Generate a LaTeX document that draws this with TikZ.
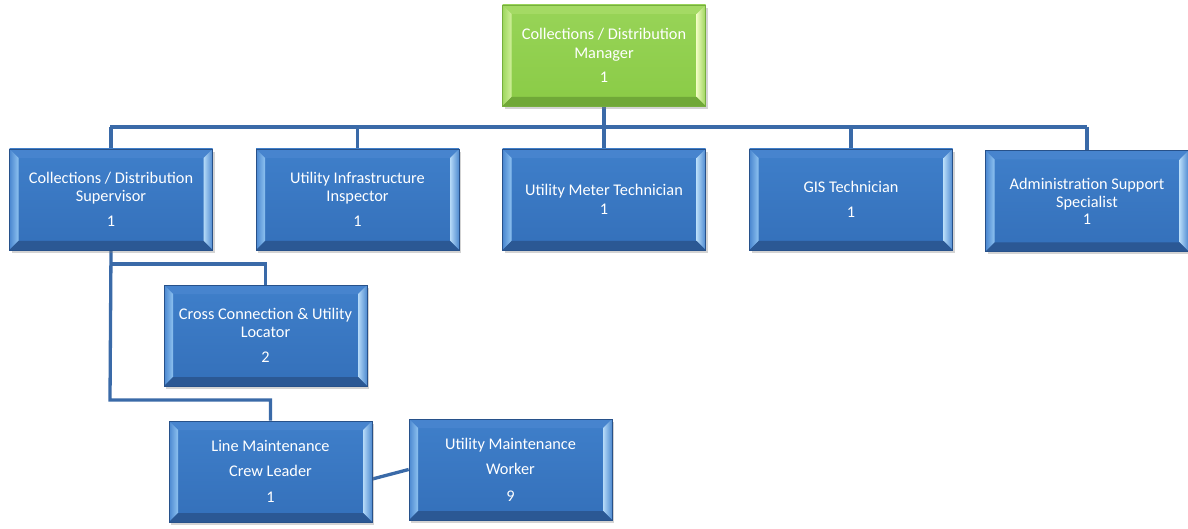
\documentclass[tikz,border=0pt]{standalone}
\usepackage{fontspec}
\setmainfont{Carlito}
\usetikzlibrary{shadows,backgrounds}

% palette
\definecolor{blueMidTop}{HTML}{3F7FCA}
\definecolor{blueMidBot}{HTML}{3470BA}
\definecolor{blueTop}{HTML}{4784CE}
\definecolor{blueLeftO}{HTML}{4A87D0}
\definecolor{blueLeftI}{HTML}{8EC2F0}
\definecolor{blueRightO}{HTML}{4E8AD0}
\definecolor{blueRightI}{HTML}{B5DAF8}
\definecolor{blueBot}{HTML}{2B5894}
\definecolor{blueEdge}{HTML}{27518A}
\definecolor{greenMidTop}{HTML}{98D458}
\definecolor{greenMidBot}{HTML}{8ACB46}
\definecolor{greenTop}{HTML}{A4DA64}
\definecolor{greenLeftO}{HTML}{9ED75E}
\definecolor{greenLeftI}{HTML}{D0EF9A}
\definecolor{greenRightO}{HTML}{9CD45C}
\definecolor{greenRightI}{HTML}{EEFBBE}
\definecolor{greenBot}{HTML}{70A838}
\definecolor{greenEdge}{HTML}{76AE3E}
\definecolor{linkBlue}{HTML}{3A6AA8}

% four bevel faces inside the current node outline
\newcommand\bevelfaces[5]{%
  \fill[#1] (path picture bounding box.north west) -- (path picture bounding box.north east)
    -- ([xshift=-9pt,yshift=-9pt]path picture bounding box.north east)
    -- ([xshift=9pt,yshift=-9pt]path picture bounding box.north west) -- cycle;
  \shade[left color=#2, right color=#3] (path picture bounding box.north west)
    -- ([xshift=9pt,yshift=-9pt]path picture bounding box.north west)
    -- ([xshift=9pt,yshift=9pt]path picture bounding box.south west)
    -- (path picture bounding box.south west) -- cycle;
  \shade[left color=#4, right color=#5] (path picture bounding box.north east)
    -- ([xshift=-9pt,yshift=-9pt]path picture bounding box.north east)
    -- ([xshift=-9pt,yshift=9pt]path picture bounding box.south east)
    -- (path picture bounding box.south east) -- cycle;
}
\newcommand\bevelbottom[1]{%
  \fill[#1] (path picture bounding box.south west) -- (path picture bounding box.south east)
    -- ([xshift=-9pt,yshift=9pt]path picture bounding box.south east)
    -- ([xshift=9pt,yshift=9pt]path picture bounding box.south west) -- cycle;
}

\tikzset{
  x=1pt, y=-1pt,
  box/.style={rectangle, minimum width=203pt, minimum height=101pt, inner sep=0pt,
    text=white, align=center, font=\fontsize{16.3}{18}\selectfont,
    drop shadow={shadow xshift=2pt, shadow yshift=-3pt, opacity=0.35}},
  bluebox/.style={box, draw=blueEdge, line width=0.7pt,
    top color=blueMidTop, bottom color=blueMidBot,
    path picture={\bevelfaces{blueTop}{blueLeftO}{blueLeftI}{blueRightI}{blueRightO}\bevelbottom{blueBot}}},
  greenbox/.style={box, draw=greenEdge, line width=0.7pt,
    top color=greenMidTop, bottom color=greenMidBot,
    path picture={\bevelfaces{greenTop}{greenLeftO}{greenLeftI}{greenRightI}{greenRightO}\bevelbottom{greenBot}}},
  link/.style={draw=linkBlue, line width=3.3pt},
}

\begin{document}
\begin{tikzpicture}
\useasboundingbox (0,0) rectangle (1188,529);

% junction points of the connector tree
\coordinate (busL) at (110,127);
\coordinate (busR) at (1087,127);
\coordinate (j1) at (110,264);
\coordinate (j2) at (110,400);

% boxes
\node[greenbox] (mgr) at (604,55.5) {Collections / Distribution\\[1pt]Manager\\[6pt]1};

\node[bluebox] (sup)   at (111,199.5) {Collections / Distribution\\Supervisor\\[7pt]1};
\node[bluebox] (insp)  at (357.5,199.5) {Utility Infrastructure\\Inspector\\[7pt]1};
\node[bluebox] (meter) at (604,199.5) {Utility Meter Technician\\[1pt]1};
\node[bluebox] (gis)   at (851,199.5) {GIS Technician\\[7pt]1};
\node[bluebox] (admin) at (1087,201) {Administration Support\\Specialist\\[-1pt]1};

\node[bluebox] (cross) at (265.5,335.5) {Cross Connection \& Utility\\Locator\\[7pt]2};
\node[bluebox] (lm)    at (270.5,471.5) {Line Maintenance\\[7pt]Crew Leader\\[8pt]1};
\node[bluebox] (umw)   at (510.5,469.5) {Utility Maintenance\\[7pt]Worker\\[9pt]9};

% connectors, kept behind the boxes
\begin{scope}[on background layer]
\draw[link] (mgr.south) -- (mgr.south |- busL);
\draw[link] (busL) -- (busR);
\foreach \c in {sup,insp,meter,gis,admin}
  \draw[link] (\c.north |- busL) -- (\c.north);
\draw[link] (sup.south) -- (j2) -| (lm.north);
\draw[link] (j1) -| (cross.north);
\draw[link] ([yshift=-7.5pt]lm.east) -- (umw.west);
\end{scope}

\end{tikzpicture}
\end{document}
